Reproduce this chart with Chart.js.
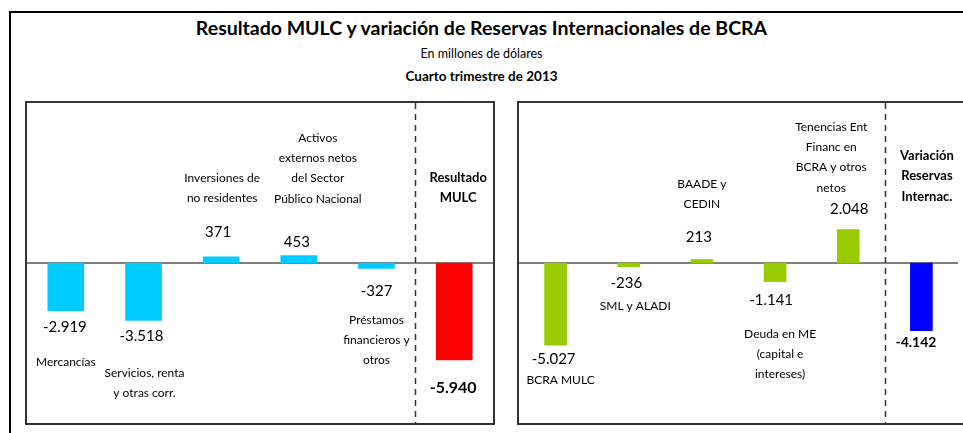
<!DOCTYPE html>
<html>
<head>
<meta charset="utf-8">
<script src="https://cdn.jsdelivr.net/npm/chart.js@4/dist/chart.umd.min.js"></script>
<style>
body { margin: 0; background: #fff; font-family: Lato, sans-serif; width: 963px; height: 433px; overflow: hidden; position: relative; }
#frame { position: absolute; left: 9px; top: 11px; width: 1000px; height: 500px; border: 2px solid #000; }
.t { position: absolute; left: 0; width: 963px; text-align: center; color: #000; white-space: nowrap; }
.panel { position: absolute; top: 101px; height: 320px; border: 2px solid #333; background: #fff; }
.panel canvas { position: absolute; left: 0; top: 0; }
</style>
</head>
<body>
<div id="frame"></div>
<div class="t" style="top:17px;font-size:19.5px;font-weight:bold;line-height:22px;">Resultado MULC y variación de Reservas Internacionales de BCRA</div>
<div class="t" style="top:46px;font-size:12.5px;line-height:16px;">En millones de dólares</div>
<div class="t" style="top:67px;font-size:13.5px;font-weight:bold;line-height:18px;">Cuarto trimestre de 2013</div>

<div class="panel" style="left:25px;width:466px;"><canvas id="leftChart" width="466" height="320"></canvas></div>
<div class="panel" style="left:517px;width:470px;"><canvas id="rightChart" width="439" height="320"></canvas></div>

<script>
// Left panel: MULC components
const leftCats = [['Mercancías'], ['Servicios, renta', 'y otras corr.'], ['Inversiones de', 'no residentes'],
    ['Activos', 'externos netos', 'del Sector', 'Público Nacional'], ['Préstamos', 'financieros y', 'otros'], ['Resultado', 'MULC']];
const leftValues = [-2919, -3518, 371, 453, -327, -5940];

// Right panel: reserves variation
const rightCats = [['BCRA MULC'], ['SML y ALADI'], ['BAADE y', 'CEDIN'], ['Deuda en ME', '(capital e', 'intereses)'],
    ['Tenencias Ent', 'Financ en', 'BCRA y otros', 'netos'], ['Variación', 'Reservas', 'Internac.']];
const rightValues = [-5027, -236, 213, -1141, 2048, -4142];

const yMin = -9800;
const yMax = 9800;

// label placement (px): gap from bar end, x shifts, first name line relative to zero line
const leftLayout = [
    { vGap: 16, vDx: -1, nY: 99, nDx: 0 },
    { vGap: 16, vDx: -2, nY: 110, nDx: 1 },
    { vGap: 25, vDx: -3, nY: -85, nDx: 1 },
    { vGap: 13, vDx: -2, nY: -125, nDx: 19 },
    { vGap: 23, vDx: 0, nY: 57, nDx: 0 },
    { vGap: 28, vDx: -1, nY: -85, nDx: 4 }
];
const rightLayout = [
    { vGap: 14, vDx: -2, nY: 117, nDx: 5 },
    { vGap: 16, vDx: -2.5, nY: 43, nDx: 6.5 },
    { vGap: 22, vDx: -3, nY: -79, nDx: 0 },
    { vGap: 19, vDx: -4, nY: 71, nDx: 5 },
    { vGap: 20, vDx: 1, nY: -136, nDx: -17 },
    { vGap: 12, vDx: -5.5, nY: -107, nDx: 5.5 }
];

function fmt(v) {
    const s = Math.abs(v).toString().replace(/\B(?=(\d{3})+(?!\d))/g, '.');
    return (v < 0 ? '-' : '') + s;
}

const panelPlugin = {
    id: 'panel',
    beforeDatasetsDraw(chart, args, opts) {
        const ctx = chart.ctx;
        const area = chart.chartArea;
        const y0 = chart.scales.y.getPixelForValue(0);
        ctx.save();
        ctx.strokeStyle = '#555';
        ctx.lineWidth = 1.3;
        ctx.beginPath();
        ctx.moveTo(area.left, y0);
        ctx.lineTo(area.right, y0);
        ctx.stroke();
        // dashed separator before the total
        const xs = chart.scales.x;
        const xd = Math.round((xs.getPixelForValue(4) + xs.getPixelForValue(5)) / 2) + 0.5;
        ctx.strokeStyle = '#333';
        ctx.lineWidth = 1.5;
        ctx.setLineDash([6, 5]);
        ctx.beginPath();
        ctx.moveTo(xd, area.top);
        ctx.lineTo(xd, area.bottom);
        ctx.stroke();
        ctx.restore();
    },
    afterDatasetsDraw(chart, args, opts) {
        const ctx = chart.ctx;
        const meta = chart.getDatasetMeta(0);
        const values = chart.data.datasets[0].data;
        const y0 = chart.scales.y.getPixelForValue(0);
        ctx.save();
        ctx.fillStyle = '#000';
        ctx.textAlign = 'center';
        ctx.textBaseline = 'middle';
        meta.data.forEach((bar, i) => {
            const p = bar.getProps(['x', 'y'], true);
            const lay = opts.layout[i];
            const last = i === values.length - 1;
            const v = values[i];
            const vy = v < 0 ? p.y + lay.vGap : p.y - lay.vGap;
            ctx.font = last ? opts.totalFont : '15px Lato';
            ctx.fillText(fmt(v), p.x + lay.vDx, vy);
            ctx.font = last ? 'bold 13px Lato' : '12px Lato';
            opts.names[i].forEach((line, k) => {
                ctx.fillText(line, p.x + lay.nDx, y0 + lay.nY + k * 20.3);
            });
        });
        ctx.restore();
    }
};

function makeChart(id, cats, values, colors, thickness, layout, totalFont) {
    return new Chart(document.getElementById(id), {
        type: 'bar',
        data: {
            labels: cats.map(c => c.join(' ')),
            datasets: [{ data: values, backgroundColor: colors, borderWidth: 0, barThickness: thickness }]
        },
        options: {
            responsive: false,
            animation: false,
            layout: { padding: 0 },
            plugins: {
                legend: { display: false },
                tooltip: { enabled: false },
                panel: { layout: layout, names: cats, totalFont: totalFont }
            },
            scales: {
                x: { display: false, grid: { display: false } },
                y: { display: false, min: yMin, max: yMax, grid: { display: false } }
            }
        },
        plugins: [panelPlugin]
    });
}

makeChart('leftChart', leftCats, leftValues,
    ['#00CCFF', '#00CCFF', '#00CCFF', '#00CCFF', '#00CCFF', '#FF0000'], 36, leftLayout, 'bold 16px Lato');
makeChart('rightChart', rightCats, rightValues,
    ['#99CC00', '#99CC00', '#99CC00', '#99CC00', '#99CC00', '#0000FF'], 22, rightLayout, 'bold 14px Lato');
</script>
</body>
</html>
